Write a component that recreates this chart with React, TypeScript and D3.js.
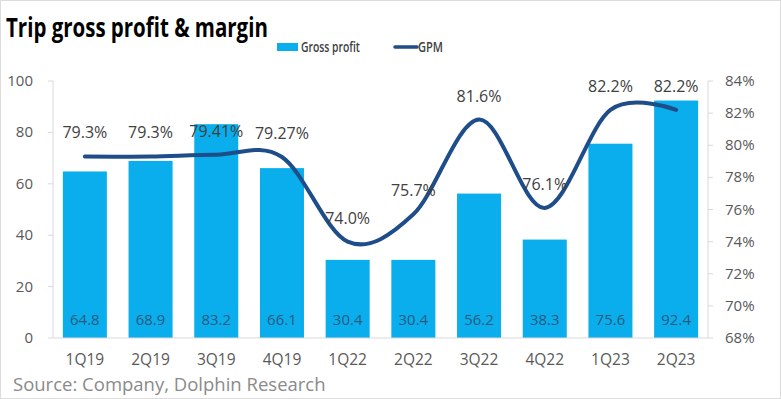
import React, { useLayoutEffect, useRef, useState } from "react";
import * as d3 from "d3";

const categories = ["1Q19", "2Q19", "3Q19", "4Q19", "1Q22", "2Q22", "3Q22", "4Q22", "1Q23", "2Q23"];
const grossProfit = [64.8, 68.9, 83.2, 66.1, 30.4, 30.4, 56.2, 38.3, 75.6, 92.4];
const gpm = [79.3, 79.3, 79.41, 79.27, 74.0, 75.7, 81.6, 76.1, 82.2, 82.2];
const gpmLabels = ["79.3%", "79.3%", "79.41%", "79.27%", "74.0%", "75.7%", "81.6%", "76.1%", "82.2%", "82.2%"];
const leftTicks = [0, 20, 40, 60, 80, 100];
const rightTicks = [68, 70, 72, 74, 76, 78, 80, 82, 84];

const W = 781;
const H = 399;
const plot = { left: 53, right: 708, top: 81, bottom: 338 };
const FONT = "'Open Sans', 'Noto Sans', sans-serif";
const BAR = "#0aaeec";
const LINE = "#1e4d8a";
const AXIS = "#d9d9d9";
const TEXT = "#595959";

// squeezes a text horizontally to a given width (the reference uses a condensed font)
const FitText = ({ x, y, width, children, ...rest }: any) => {
  const ref = useRef<SVGTextElement>(null);
  const [k, setK] = useState(1);
  useLayoutEffect(() => {
    if (!ref.current) return;
    const len = ref.current.getComputedTextLength();
    if (len > 0) setK(width / len);
  }, [width, children]);
  return (
    <text ref={ref} transform={`translate(${x},${y}) scale(${k},1)`} {...rest}>
      {children}
    </text>
  );
};

const App = () => {
  const x = d3
    .scaleBand<string>()
    .domain(categories)
    .range([plot.left, plot.right])
    .paddingInner(0.33)
    .paddingOuter(0.15);
  const yLeft = d3.scaleLinear().domain([0, 100]).range([plot.bottom, plot.top]);
  const yRight = d3.scaleLinear().domain([68, 84]).range([plot.bottom, plot.top]);
  const cx = (c: string) => (x(c) as number) + x.bandwidth() / 2;

  const line = d3
    .line<number>()
    .x((_, i) => cx(categories[i]))
    .y((d) => yRight(d))
    .curve(d3.curveCardinal.tension(0));

  return (
    <svg
      width={W}
      height={H}
      style={{ position: "absolute", left: 0, top: 0, background: "#fff" }}
      fontFamily={FONT}
    >
      <rect x={0.5} y={0.5} width={W - 1} height={H - 1} fill="#fff" stroke="#dcdcdc" />

      <FitText x={6} y={37} width={262} fontSize={26} fontWeight={700} fill="#000">
        Trip gross profit &amp; margin
      </FitText>

      {/* legend */}
      <rect x={277} y={43} width={21} height={8} fill={BAR} />
      <FitText x={301} y={52} width={59} fontSize={14} fontWeight={600} fill="#404040">
        Gross profit
      </FitText>
      <line x1={395} x2={417} y1={47} y2={47} stroke={LINE} strokeWidth={3.5} strokeLinecap="round" />
      <FitText x={418} y={52} width={25} fontSize={14} fontWeight={600} fill="#404040">
        GPM
      </FitText>

      {/* axes */}
      <line x1={plot.left} x2={plot.left} y1={plot.top} y2={plot.bottom} stroke={AXIS} />
      <line x1={plot.right} x2={plot.right} y1={plot.top} y2={plot.bottom} stroke={AXIS} />
      {leftTicks.map((t) => (
        <g key={"l" + t}>
          <line x1={plot.left - 5} x2={plot.left} y1={yLeft(t)} y2={yLeft(t)} stroke={AXIS} />
          <text x={33} y={yLeft(t) + 5} fontSize={15} fill={TEXT} textAnchor="end">
            {t}
          </text>
        </g>
      ))}
      {rightTicks.map((t) => (
        <g key={"r" + t}>
          <line x1={plot.right} x2={plot.right + 5} y1={yRight(t)} y2={yRight(t)} stroke={AXIS} />
          <text x={725} y={yRight(t) + 5} fontSize={15} fill={TEXT}>
            {t}%
          </text>
        </g>
      ))}

      {/* bars */}
      {categories.map((c, i) => (
        <rect
          key={"b" + c}
          x={x(c)}
          y={yLeft(grossProfit[i])}
          width={x.bandwidth()}
          height={plot.bottom - yLeft(grossProfit[i])}
          fill={BAR}
        />
      ))}
      <line x1={plot.left} x2={plot.right} y1={plot.bottom} y2={plot.bottom} stroke={AXIS} />

      {categories.map((c, i) => (
        <text key={"v" + c} x={cx(c)} y={325} fontSize={15} fill="#2a5a7e" textAnchor="middle">
          {grossProfit[i].toFixed(1)}
        </text>
      ))}

      {categories.map((c) => (
        <text key={"x" + c} x={cx(c)} y={365} fontSize={15.5} fill={TEXT} textAnchor="middle">
          {c}
        </text>
      ))}

      {/* GPM line */}
      <path d={line(gpm) || ""} fill="none" stroke={LINE} strokeWidth={4} strokeLinecap="round" />
      {categories.map((c, i) => (
        <text key={"g" + c} x={cx(c)} y={yRight(gpm[i]) - 18} fontSize={16} fill="#404040" textAnchor="middle">
          {gpmLabels[i]}
        </text>
      ))}

      <text x={13} y={391} fontSize={18.5} fill="#8a8a8a">
        Source: Company, Dolphin Research
      </text>
    </svg>
  );
};

export default App;
